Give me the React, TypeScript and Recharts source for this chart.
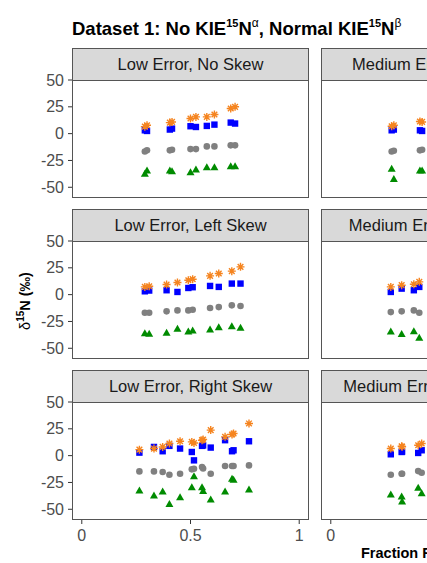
import React from "react";
import { ScatterChart, Scatter, XAxis, YAxis } from "recharts";

const FONT = "'Liberation Sans', Arial, sans-serif";

const COLORS = {
  orange: "#F5841F",
  blue: "#0000FF",
  grey: "#808080",
  green: "#008B00",
};

// facet labels
const errorLevels = ["Low Error", "Medium Error"];
const skewTypes = ["No Skew", "Left Skew", "Right Skew"];

const xTicks = [0, 0.5, 1];
const yTicks = [-50, -25, 0, 25, 50];

// Low Error, No Skew
const lowNoX = [0.29, 0.3, 0.405, 0.415, 0.5, 0.525, 0.575, 0.61, 0.685, 0.705];
const lowNoOrange = [6.5, 7.8, 10.3, 10.9, 14.1, 15.6, 15.6, 17.8, 23.4, 25];
const lowNoBlue = [3.1, 2.5, 3.8, 4.7, 6.9, 6.2, 7.2, 8.4, 10.3, 9.4];
const lowNoGrey = [-16.6, -15.5, -15.6, -15, -14.4, -14.4, -11.9, -11.9, -10.9, -10.9];
const lowNoGreen = [-37.5, -34.4, -34.4, -35, -36, -33.4, -31.3, -31.3, -30.3, -30.3];

// Low Error, Left Skew
const lowLeftX = [0.29, 0.31, 0.39, 0.44, 0.49, 0.51, 0.59, 0.63, 0.69, 0.73];
const lowLeftOrange = [7.2, 7.8, 9.4, 11.3, 13.4, 14.4, 17.5, 19.7, 21.9, 25.9];
const lowLeftBlue = [3.1, 3.8, 4.1, 2.5, 6.2, 6.9, 8.1, 7.2, 10.3, 10.3];
const lowLeftGrey = [-16.9, -16.9, -15.6, -14.7, -14.7, -14.1, -12.5, -11.6, -10, -10.6];
const lowLeftGreen = [-36, -36.5, -35.6, -31.9, -34.4, -33.4, -32.5, -30.3, -29.4, -30.9];

// Low Error, Right Skew
const lowRightX = [0.265, 0.332, 0.372, 0.403, 0.452, 0.506, 0.516, 0.553, 0.558, 0.593, 0.659, 0.691, 0.698, 0.769];
const lowRightOrange = [5.6, 6.6, 8.1, 11.3, 13.4, 12.8, 11.8, 14.4, 15, 23.8, 17.5, 19.7, 20.6, 30];
const lowRightBlue = [2.8, 8.1, 4.1, 9.1, 6.6, 3.4, -4.4, 9.1, 9.5, 7.5, 14.4, 4.1, 5, 13.4];
const lowRightGrey = [-14.7, -14.7, -15.3, -17.8, -16.9, -12.8, -12.2, -10.6, -12, -16.9, -9.7, -9.7, -9.7, -9.1];
const lowRightGreen = [-32.5, -37.2, -33.4, -45, -38.8, -29.4, -19.1, -29.4, -33, -40.9, -33.4, -21.6, -22.5, -31.6];

// Medium Error, No Skew
const medNoX = [0.28, 0.29, 0.41, 0.42];
const medNoOrange = [6.9, 7.8, 11.3, 10.9];
const medNoBlue = [3.1, 3.8, 3.1, 2.5];
const medNoGrey = [-16.6, -16, -15.6, -15];
const medNoGreen = [-32.8, -42.2, -34.4, -34.4];

// Medium Error, Left Skew
const medLeftX = [0.276, 0.326, 0.382, 0.407];
const medLeftOrange = [7.2, 8.8, 9.7, 11.9];
const medLeftBlue = [2.5, 5.6, 4.1, 7.2];
const medLeftGrey = [-16.3, -15.6, -14.7, -16.9];
const medLeftGreen = [-34.4, -36.6, -34.1, -40.3];

// Medium Error, Right Skew
const medRightX = [0.276, 0.326, 0.328, 0.402, 0.418];
const medRightOrange = [6.6, 8.75, 8.3, 9.7, 11.3];
const medRightBlue = [1.25, 3.4, 3.8, 2.5, 5];
const medRightGrey = [-17.8, -16.9, -16.9, -14.4, -15.9];
const medRightGreen = [-36.3, -38.1, -42.8, -30, -35];

const toPoints = (xs: number[], ys: number[]) => xs.map((x, i) => ({ x, y: ys[i] }));

const panels = [
  { col: 0, row: 0, x: lowNoX, orange: lowNoOrange, blue: lowNoBlue, grey: lowNoGrey, green: lowNoGreen },
  { col: 0, row: 1, x: lowLeftX, orange: lowLeftOrange, blue: lowLeftBlue, grey: lowLeftGrey, green: lowLeftGreen },
  { col: 0, row: 2, x: lowRightX, orange: lowRightOrange, blue: lowRightBlue, grey: lowRightGrey, green: lowRightGreen },
  { col: 1, row: 0, x: medNoX, orange: medNoOrange, blue: medNoBlue, grey: medNoGrey, green: medNoGreen },
  { col: 1, row: 1, x: medLeftX, orange: medLeftOrange, blue: medLeftBlue, grey: medLeftGrey, green: medLeftGreen },
  { col: 1, row: 2, x: medRightX, orange: medRightOrange, blue: medRightBlue, grey: medRightGrey, green: medRightGreen },
];

// layout (px)
const PLOT_W = 237;
const PLOT_H = 118;
const STRIP_H = 32;
const Y_AXIS_W = 46;
const X_AXIS_H = 30;
const PAD_TOP = 10; // room for the "50" label that sits on the panel top
const colLeft = [72, 320.7];
const rowTop = [80, 241, 402];

const Asterisk = ({ cx, cy }: any) => {
  const r = 4;
  const d = r * 0.707;
  return (
    <path
      d={`M${cx - r},${cy}L${cx + r},${cy}M${cx},${cy - r}L${cx},${cy + r}M${cx - d},${cy - d}L${cx + d},${cy + d}M${cx - d},${cy + d}L${cx + d},${cy - d}`}
      stroke={COLORS.orange}
      strokeWidth={1.4}
      fill="none"
    />
  );
};
const Square = ({ cx, cy }: any) => (
  <rect x={cx - 3.2} y={cy - 3.2} width={6.4} height={6.4} fill={COLORS.blue} />
);
const Dot = ({ cx, cy }: any) => <circle cx={cx} cy={cy} r={3.3} fill={COLORS.grey} />;
const Triangle = ({ cx, cy }: any) => (
  <polygon points={`${cx},${cy - 4} ${cx + 4},${cy + 3} ${cx - 4},${cy + 3}`} fill={COLORS.green} />
);

const tickStyle = { fill: "#4d4d4d", fontSize: 16, fontFamily: FONT };

const Panel = ({ col, row, x, orange, blue, grey, green }: any) => {
  const showY = col === 0;
  const showX = row === 2;
  const left = colLeft[col] - (showY ? Y_AXIS_W : 0);
  const top = rowTop[row];
  return (
    <>
      <div
        style={{
          position: "absolute",
          left: colLeft[col],
          top: top - STRIP_H,
          width: PLOT_W,
          height: STRIP_H + 1,
          boxSizing: "border-box",
          background: "#d9d9d9",
          border: "1px solid #555",
          display: "flex",
          alignItems: "center",
          justifyContent: "center",
          fontFamily: FONT,
          fontSize: 16.5,
          color: "#1a1a1a",
          whiteSpace: "nowrap",
        }}
      >
        {`${errorLevels[col]}, ${skewTypes[row]}`}
      </div>
      <div
        style={{
          position: "absolute",
          left: colLeft[col],
          top,
          width: PLOT_W,
          height: PLOT_H,
          boxSizing: "border-box",
          border: "1px solid #555",
        }}
      />
      <div style={{ position: "absolute", left, top: top - PAD_TOP }}>
        <ScatterChart
          width={PLOT_W + (showY ? Y_AXIS_W : 0)}
          height={PAD_TOP + PLOT_H + (showX ? X_AXIS_H : 0)}
          margin={{ top: PAD_TOP, right: 0, bottom: 0, left: 0 }}
        >
          <XAxis
            type="number"
            dataKey="x"
            domain={[-0.045, 1.045]}
            ticks={xTicks}
            interval={0}
            allowDataOverflow
            hide={!showX}
            height={X_AXIS_H}
            axisLine={false}
            tickLine={{ stroke: "#333" }}
            tickSize={4}
            tickMargin={6}
            tick={tickStyle}
          />
          <YAxis
            type="number"
            dataKey="y"
            domain={[-60, 50]}
            ticks={yTicks}
            interval={0}
            allowDataOverflow
            hide={!showY}
            width={Y_AXIS_W}
            axisLine={false}
            tickLine={{ stroke: "#333" }}
            tickSize={4}
            tickMargin={4}
            tick={tickStyle}
          />
          <Scatter data={toPoints(x, green)} shape={Triangle} isAnimationActive={false} />
          <Scatter data={toPoints(x, grey)} shape={Dot} isAnimationActive={false} />
          <Scatter data={toPoints(x, blue)} shape={Square} isAnimationActive={false} />
          <Scatter data={toPoints(x, orange)} shape={Asterisk} isAnimationActive={false} />
        </ScatterChart>
      </div>
    </>
  );
};

export default function App() {
  return (
    <div
      style={{
        position: "fixed",
        left: 0,
        top: 0,
        width: 427,
        height: 563,
        overflow: "hidden",
        background: "#fff",
      }}
    >
      <svg width={900} height={563} style={{ position: "absolute", left: 0, top: 0 }}>
        <text x={72} y={35} fontFamily={FONT} fontSize={18.5} fontWeight="bold" fill="#000">
          Dataset 1: No KIE
          <tspan fontSize={11} dy={-8}>15</tspan>
          <tspan dy={8}>N</tspan>
          <tspan fontSize={12} fontWeight="normal" dy={-8}>α</tspan>
          <tspan dy={8}>, Normal KIE</tspan>
          <tspan fontSize={11} dy={-8}>15</tspan>
          <tspan dy={8}>N</tspan>
          <tspan fontSize={12} fontWeight="normal" dy={-8}>β</tspan>
        </text>
        <text
          x={30}
          y={301}
          transform="rotate(-90 30 301)"
          textAnchor="middle"
          fontFamily={FONT}
          fontSize={14.5}
          fontWeight="bold"
          fill="#000"
        >
          <tspan fontWeight="normal">δ</tspan>
          <tspan fontSize={10} dy={-6}>15</tspan>
          <tspan dy={6}>N (‰)</tspan>
        </text>
        <text x={361} y={558} fontFamily={FONT} fontSize={14.5} fontWeight="bold" fill="#000">
          Fraction Remaining
        </text>
      </svg>
      {panels.map((p, i) => (
        <Panel key={i} {...p} />
      ))}
    </div>
  );
}
